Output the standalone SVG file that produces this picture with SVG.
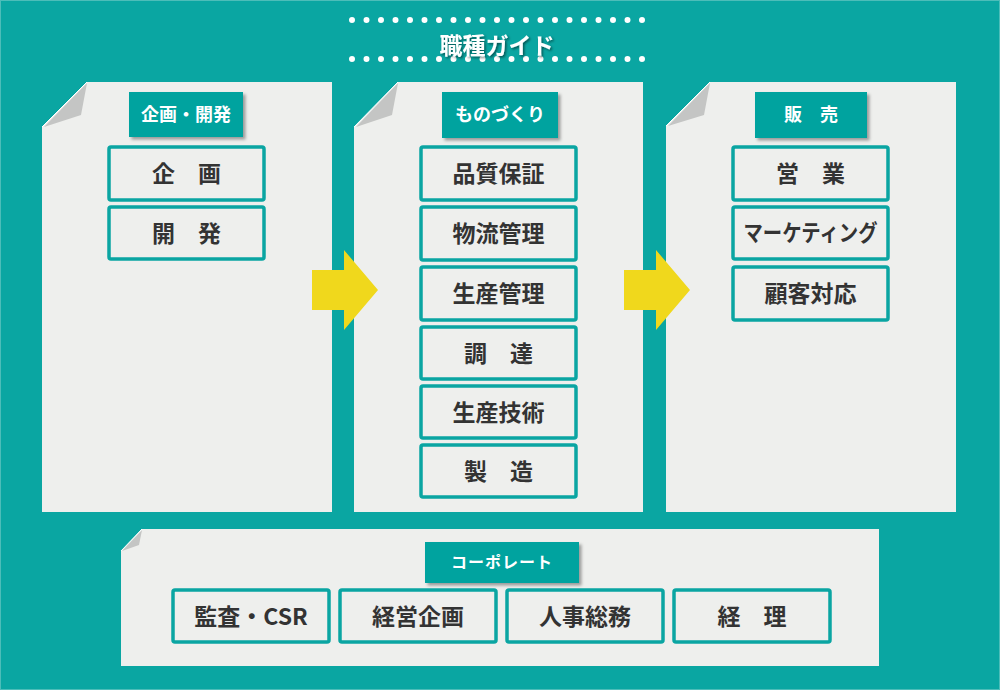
<svg xmlns="http://www.w3.org/2000/svg" width="1000" height="690" viewBox="0 0 1000 690">
<defs>
<style>
.panel{fill:#eeefed;}
.flap{fill:#c4c5c4;}
.fedge{fill:none;stroke:#ffffff;stroke-width:1;}
.hdr{fill:#06a39f;}
.item{fill:#eeefed;stroke:#0aa5a2;stroke-width:3.5;}
.ht{font-family:"Noto Sans CJK JP","Noto Sans",sans-serif;font-weight:700;fill:#ffffff;text-anchor:middle;}
.it{font-family:"Noto Sans CJK JP","Noto Sans",sans-serif;font-weight:700;fill:#333333;text-anchor:middle;font-size:23px;}
.arrow{fill:#f0d81c;}
.dots{stroke:#ffffff;stroke-width:6;stroke-linecap:round;stroke-dasharray:0 14.5;}
</style>
<filter id="sh" x="-20%" y="-20%" width="140%" height="150%">
<feDropShadow dx="2.5" dy="2.5" stdDeviation="1.5" flood-color="#000" flood-opacity="0.35"/>
</filter>
<filter id="tsh" x="-20%" y="-30%" width="140%" height="160%">
<feDropShadow dx="1.5" dy="1.5" stdDeviation="1" flood-color="#000" flood-opacity="0.5"/>
</filter>
</defs>
<rect x="0" y="0" width="1000" height="690" fill="#0aa6a2"/>
<rect x="0.5" y="0.5" width="999" height="689" fill="none" stroke="#4cbdb9" stroke-width="1"/>

<g id="title">
<line class="dots" x1="352" y1="20" x2="643" y2="20"/>
<line class="dots" x1="352" y1="59" x2="643" y2="59"/>
<text x="497" y="54" class="ht" font-size="23" filter="url(#tsh)">職種ガイド</text>
</g>

<g id="panel-kikaku">
<path class="panel" d="M87,82 L332,82 L332,512 L42,512 L42,127 Z"/>
<path class="flap" d="M87,83 L81,115 L44,127 Z"/>
<path class="fedge" d="M87,82 L42,127"/>
<rect class="hdr" x="129" y="92" width="114" height="45" filter="url(#sh)"/>
<text class="ht" x="186" y="121" font-size="18">企画・開発</text>
<rect class="item" x="109" y="147" width="155" height="53" rx="2"/>
<text class="it" x="186.5" y="182">企　画</text>
<rect class="item" x="109" y="207" width="155" height="52" rx="2"/>
<text class="it" x="186.5" y="241.5">開　発</text>
</g>

<g id="panel-monozukuri">
<path class="panel" d="M398,82 L643,82 L643,512 L354,512 L354,127 Z"/>
<path class="flap" d="M398,83 L392,115 L356,127 Z"/>
<path class="fedge" d="M398,82 L354,127"/>
<rect class="hdr" x="442" y="92" width="116" height="46" filter="url(#sh)"/>
<text class="ht" x="500" y="121" font-size="18">ものづくり</text>
<rect class="item" x="421" y="147" width="155" height="53" rx="2"/>
<text class="it" x="498.5" y="182">品質保証</text>
<rect class="item" x="421" y="207" width="155" height="53" rx="2"/>
<text class="it" x="498.5" y="242">物流管理</text>
<rect class="item" x="421" y="267" width="155" height="53" rx="2"/>
<text class="it" x="498.5" y="302">生産管理</text>
<rect class="item" x="421" y="327" width="155" height="52" rx="2"/>
<text class="it" x="498.5" y="361.5">調　達</text>
<rect class="item" x="421" y="386" width="155" height="52" rx="2"/>
<text class="it" x="498.5" y="420.5">生産技術</text>
<rect class="item" x="421" y="445" width="155" height="52" rx="2"/>
<text class="it" x="498.5" y="479.5">製　造</text>
</g>

<g id="panel-hanbai">
<path class="panel" d="M710,82 L956,82 L956,512 L666,512 L666,126 Z"/>
<path class="flap" d="M710,83 L704,115 L668,126 Z"/>
<path class="fedge" d="M710,82 L666,126"/>
<rect class="hdr" x="755" y="92" width="112" height="46" filter="url(#sh)"/>
<text class="ht" x="811" y="121" font-size="18">販　売</text>
<rect class="item" x="733" y="147" width="155" height="53" rx="2"/>
<text class="it" x="810.5" y="182">営　業</text>
<rect class="item" x="733" y="207" width="155" height="52" rx="2"/>
<text class="it" x="810.5" y="240.5" font-size="19" textLength="134" lengthAdjust="spacingAndGlyphs">マーケティング</text>
<rect class="item" x="733" y="267" width="155" height="53" rx="2"/>
<text class="it" x="810.5" y="302">顧客対応</text>
</g>

<g id="panel-corporate">
<path class="panel" d="M142,529 L879,529 L879,666 L121,666 L121,551 Z"/>
<path class="flap" d="M142,530 L139,545 L122,551 Z"/>
<path class="fedge" d="M142,529 L121,551"/>
<rect class="hdr" x="425" y="542" width="154" height="41" filter="url(#sh)"/>
<text class="ht" x="502" y="568" font-size="16" letter-spacing="1">コーポレート</text>
<rect class="item" x="173" y="590" width="156" height="52" rx="2"/>
<text class="it" x="251" y="624.5">監査・CSR</text>
<rect class="item" x="340" y="590" width="156" height="52" rx="2"/>
<text class="it" x="418" y="624.5">経営企画</text>
<rect class="item" x="507" y="590" width="156" height="52" rx="2"/>
<text class="it" x="585" y="624.5">人事総務</text>
<rect class="item" x="674" y="590" width="156" height="52" rx="2"/>
<text class="it" x="752" y="624.5">経　理</text>
</g>

<g id="connectors">
<polygon class="arrow" points="312,270 344,270 344,250 378,290 344,330 344,310 312,310"/>
<polygon class="arrow" points="624,270 656,270 656,250 690,290 656,330 656,310 624,310"/>
</g>
</svg>
